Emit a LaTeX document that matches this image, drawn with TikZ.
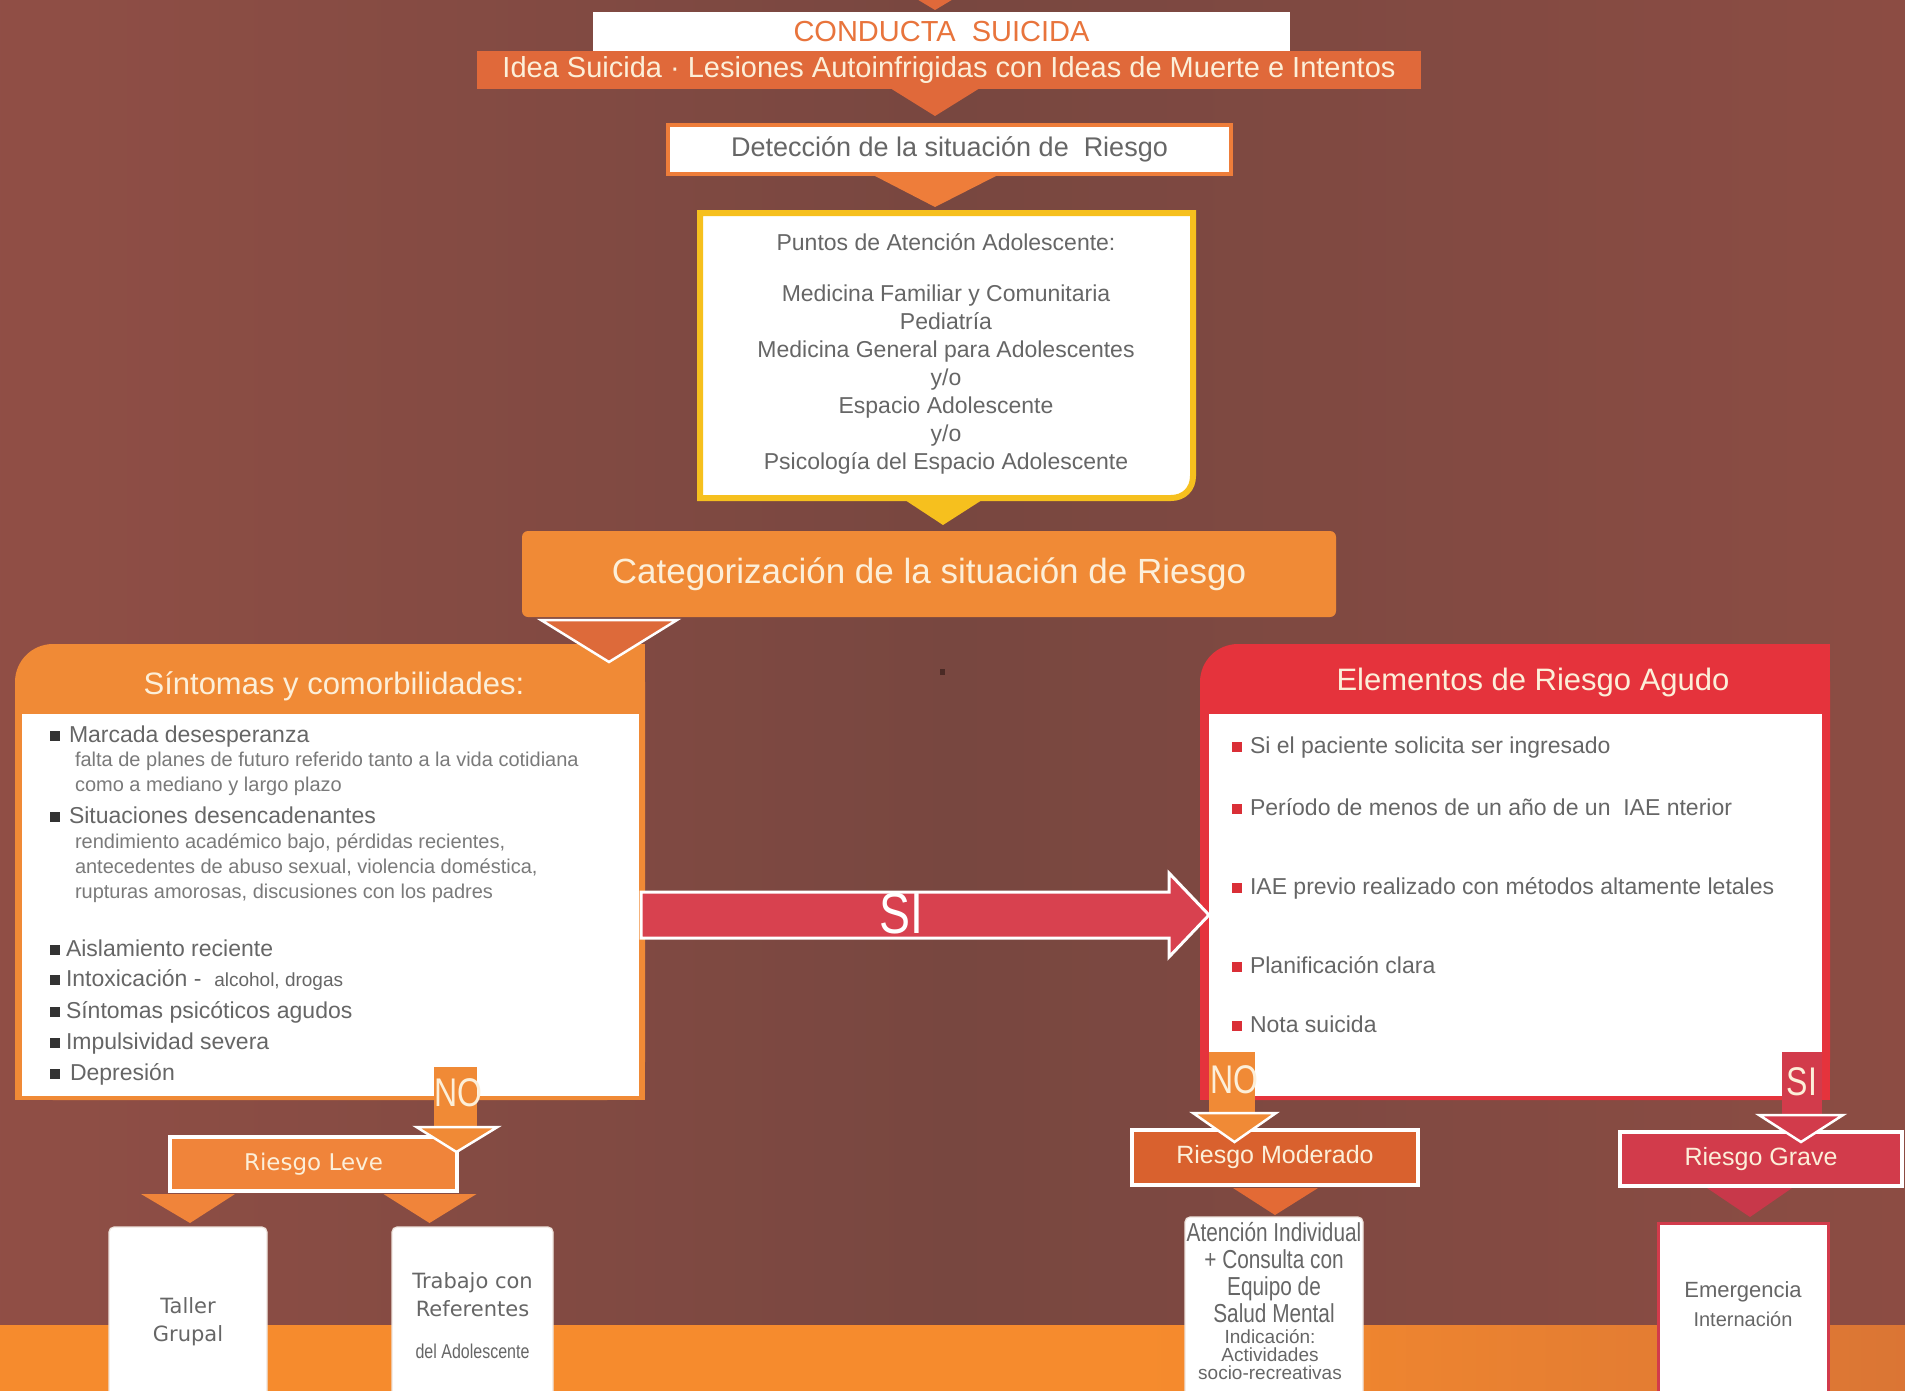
\documentclass[tikz,border=0pt]{standalone}
\usepackage{fontspec}
\setmainfont{Liberation Sans}
\newfontfamily\narrowf[FakeStretch=0.8]{Liberation Sans}
\newfontfamily\dejavuf{DejaVu Sans}
\usetikzlibrary{calc}
\definecolor{bgL}{HTML}{A8564B}
\definecolor{bgM}{HTML}{784740}
\definecolor{bgR}{HTML}{A05247}
\definecolor{bandL}{HTML}{F68B2D}
\definecolor{bandR}{HTML}{B85A3E}
\definecolor{orA}{HTML}{F08A36}
\definecolor{orD}{HTML}{E0693A}
\definecolor{orB}{HTML}{EE7D3A}
\definecolor{orL}{HTML}{F0843A}
\definecolor{orT}{HTML}{DD6A3A}
\definecolor{modF}{HTML}{D9612E}
\definecolor{modT}{HTML}{E36A35}
\definecolor{cream}{HTML}{FCEFD9}
\definecolor{grayT}{HTML}{666666}
\definecolor{graySub}{HTML}{7A7A7A}
\definecolor{yelB}{HTML}{F6C01E}
\definecolor{redH}{HTML}{E5333C}
\definecolor{redA}{HTML}{D8414F}
\definecolor{redB}{HTML}{D23B4B}
\definecolor{redT}{HTML}{C8384A}
\definecolor{condOr}{HTML}{E8743C}
\definecolor{bulG}{HTML}{333333}
\definecolor{bulR}{HTML}{DA2F37}
\definecolor{boxLine}{HTML}{EDE3DC}
\definecolor{dotC}{HTML}{4A2A25}
\pgfdeclarehorizontalshading{bgshade}{100bp}{color(0bp)=(bgL); color(50bp)=(bgM); color(100bp)=(bgR)}
\pgfdeclarehorizontalshading{bandshade}{100bp}{color(0bp)=(bandL); color(55bp)=(bandL); color(100bp)=(bandR)}
\newcommand{\fsz}[2]{\fontsize{#1}{#2}\selectfont}
\newcommand{\sqb}[2]{{\color{#1}\raisebox{1pt}{\rule{10pt}{10pt}}}\hspace{#2}}
\begin{document}
\begin{tikzpicture}[x=1pt,y=-1pt,
  every node/.style={inner sep=0pt, outer sep=0pt},
  headtri/.style={draw=white, line width=2.5, line join=miter},
  whitebox/.style={fill=white, rounded corners=5, draw=boxLine, line width=1.2},
  itemtxt/.style={anchor=base west, text=grayT, font=\fsz{23}{23}},
  subtxt/.style={anchor=base west, text=graySub, font=\fsz{20}{20}},
  elemtxt/.style={anchor=base west, text=grayT, font=\fsz{23}{23}},
  headtxt/.style={text=cream, font=\fsz{31}{31}},
  riskbox/.style={draw=white, line width=3.5, text=cream},
  bartxt/.style={text=cream, font=\narrowf\fsz{40}{40}}
]
\useasboundingbox (0,0) rectangle (1905,1391);
\shade[shading=bgshade] (0,0) rectangle (1905,1391);
\shade[shading=bandshade] (0,1325) rectangle (1905,1391);

% ---------- top part ----------
\node[fill=white, minimum width=697, minimum height=39, text=condOr, font=\fsz{29}{29}] (cond) at (941.5,31.5) {CONDUCTA\ \ SUICIDA};
\fill[orD] ($(cond.north)+(-51.5,-29)$) -- ($(cond.north)+(38.5,-29)$) -- ($(cond.north)+(-6.5,-2)$) -- cycle;
\node[fill=orD, minimum width=944, minimum height=38, text=cream, font=\fsz{29}{29}] (idea) at (949,70) {Idea Suicida · Lesiones Autoinfrigidas con Ideas de Muerte e Intentos};
\fill[orD] ($(idea.south)+(-59,-1)$) -- ($(idea.south)+(31,-1)$) -- ($(idea.south)+(-14,27)$) -- cycle;

\node[fill=white, draw=orB, line width=3.5, minimum width=563, minimum height=49, text=grayT, font=\fsz{27}{27}] (det) at (949.5,149.5) {Detección de la situación de\ \ Riesgo};
\fill[orB] ($(det.south)+(-74.5,2)$) -- ($(det.south)+(46.5,2)$) -- ($(det.south)+(-14.5,33)$) -- cycle;

\node[minimum width=493, minimum height=285] (puntbox) at (946.5,355.5) {};
\draw[yelB, line width=6, fill=white] (puntbox.north west) -- (puntbox.north east) -- ($(puntbox.south east)+(0,-22)$) .. controls ($(puntbox.south east)+(0,-9)$) and ($(puntbox.south east)+(-9,0)$) .. ($(puntbox.south east)+(-22,0)$) -- (puntbox.south west) -- cycle;
\node[anchor=north, align=center, text=grayT, font=\fsz{23}{28}] (punt) at (946,234) {Puntos de Atención Adolescente:\\[23pt]Medicina Familiar y Comunitaria\\Pediatría\\Medicina General para Adolescentes\\y/o\\Espacio Adolescente\\y/o\\Psicología del Espacio Adolescente};
\fill[yelB] ($(puntbox.south)+(-41.5,2)$) -- ($(puntbox.south)+(35.5,2)$) -- ($(puntbox.south)+(-3.5,27)$) -- cycle;

\node[fill=orA, rounded corners=6, minimum width=814, minimum height=86, text=cream, font=\fsz{35}{35}] (categ) at (929,574) {Categorización de la situación de Riesgo};

% ---------- Sintomas box ----------
\node[fill=orA, rounded corners=38, minimum width=630, minimum height=456] (sint) at (330,872) {};
\fill[orA] (sint.north) rectangle (sint.south east);
\fill[orA] (sint.west) rectangle (sint.south);
\node[fill=white, minimum width=617, minimum height=382] (sintbody) at (330.5,905) {};
\node[headtxt] (sintH) at (334,686) {Síntomas y comorbilidades:};
\node[itemtxt] (s1) at (50,742) {\sqb{bulG}{9pt}Marcada desesperanza};
\node[subtxt] (s1a) at (75,766) {falta de planes de futuro referido tanto a la vida cotidiana};
\node[subtxt] (s1b) at (75,791) {como a mediano y largo plazo};
\node[itemtxt] (s2) at (50,823) {\sqb{bulG}{9pt}Situaciones desencadenantes};
\node[subtxt] (s2a) at (75,848) {rendimiento académico bajo, pérdidas recientes,};
\node[subtxt] (s2b) at (75,873) {antecedentes de abuso sexual, violencia doméstica,};
\node[subtxt] (s2c) at (75,898) {rupturas amorosas, discusiones con los padres};
\node[itemtxt] (s3) at (50,956) {\sqb{bulG}{6pt}Aislamiento reciente};
\node[itemtxt] (s4) at (50,986) {\sqb{bulG}{6pt}Intoxicación -\ \ {\fsz{19}{19}alcohol, drogas}};
\node[itemtxt] (s5) at (50,1018) {\sqb{bulG}{6pt}Síntomas psicóticos agudos};
\node[itemtxt] (s6) at (50,1049) {\sqb{bulG}{6pt}Impulsividad severa};
\node[itemtxt] (s7) at (50,1080) {\sqb{bulG}{10pt}Depresión};

\filldraw[fill=orT, headtri] ($(categ.south west)+(19,3)$) -- ($(categ.south west)+(155,3)$) -- ($(categ.south west)+(87,45)$) -- cycle;

% ---------- Elementos box ----------
\node[fill=redH, rounded corners=38, minimum width=630, minimum height=456] (elem) at (1515,872) {};
\fill[redH] (elem.north) rectangle (elem.south east);
\fill[redH] (elem.west) rectangle (elem.south);
\node[fill=white, minimum width=613, minimum height=382] (elembody) at (1515.5,905) {};
\node[headtxt] (elemH) at (1533,682) {Elementos de Riesgo Agudo};
\node[elemtxt] (e1) at (1232,753) {\sqb{bulR}{8pt}Si el paciente solicita ser ingresado};
\node[elemtxt] (e2) at (1232,815) {\sqb{bulR}{8pt}Período de menos de un año de un\ \ IAE nterior};
\node[elemtxt] (e3) at (1232,894) {\sqb{bulR}{8pt}IAE previo realizado con métodos altamente letales};
\node[elemtxt] (e4) at (1232,973) {\sqb{bulR}{8pt}Planificación clara};
\node[elemtxt] (e5) at (1232,1032) {\sqb{bulR}{8pt}Nota suicida};

\fill[dotC] (940,669) rectangle (945,675);

% ---------- SI arrow ----------
\coordinate (aS) at ($(sint.east)+(-4,43)$);
\coordinate (aE) at ($(elem.west)+(9,43)$);
\draw[white, line width=3, line join=miter, fill=redA] ($(aS)+(0,-23)$) -- ($(aE)+(-40,-23)$) -- ($(aE)+(-40,-42)$) -- (aE) -- ($(aE)+(-40,42)$) -- ($(aE)+(-40,23)$) -- ($(aS)+(0,23)$) -- cycle;
\node[text=white, font=\narrowf\fsz{58}{58}] (siBig) at (901,914) {SI};

% ---------- left branch ----------
\node[fill=orL, riskbox, minimum width=287, minimum height=54, font=\dejavuf\fsz{23}{23}] (leve) at (313.5,1164) {Riesgo Leve};
\node[fill=orA, minimum width=43, minimum height=63] (noL) at (455.5,1098.5) {};
\node[bartxt] (noLt) at (458,1093) {NO};
\filldraw[fill=orA, headtri] ($(noL.south)+(-39,-3)$) -- ($(noL.south)+(42,-3)$) -- ($(noL.south)+(1,22)$) -- cycle;

\node[whitebox, anchor=north, minimum width=158, minimum height=190, align=center, text=grayT, font=\dejavuf\fsz{21}{28}] (taller) at (188,1227) {Taller\\Grupal};
\node[whitebox, anchor=north, minimum width=161, minimum height=190] (trab) at (472.5,1227) {};
\node[anchor=north, align=center, text=grayT, font=\dejavuf\fsz{21}{28}] (trabT) at (472.5,1273) {Trabajo con\\Referentes\\[14pt]{\narrowf\fsz{20}{20}del Adolescente}};
\fill[orL] ($(taller.north |- leve.south)+(-47,3)$) -- ($(taller.north |- leve.south)+(47,3)$) -- ($(taller.north)+(2,-4)$) -- cycle;
\fill[orL] ($(trab.north |- leve.south)+(-89,3)$) -- ($(trab.north |- leve.south)+(4,3)$) -- ($(trab.north)+(-43,-4)$) -- cycle;

% ---------- moderate branch ----------
\node[fill=modF, riskbox, minimum width=286, minimum height=55, font=\fsz{25}{25}] (mod) at (1275,1157.5) {Riesgo Moderado};
\node[fill=orA, minimum width=46, minimum height=63] (noR) at (1232,1083.5) {};
\node[bartxt] (noRt) at (1234,1080) {NO};
\filldraw[fill=orA, headtri] ($(noR.south)+(-39,-2)$) -- ($(noR.south)+(44,-2)$) -- ($(noR.south)+(2.5,27)$) -- cycle;
\fill[modT] ($(mod.south)+(-42,3)$) -- ($(mod.south)+(43,3)$) -- ($(mod.south)+(0,30)$) -- cycle;
\node[whitebox, anchor=north, minimum width=178, minimum height=190] (aten) at (1274,1217) {};
\node[anchor=north, align=center, text=grayT, font=\narrowf\fsz{26}{27}] (atenT) at (1274,1222) {Atención Individual\\+ Consulta con\\Equipo de\\Salud Mental};
\node[anchor=north, align=center, text=grayT, font=\fsz{19}{18}] (atenT2) at (1270,1329) {Indicación:\\Actividades\\socio-recreativas};

% ---------- grave branch ----------
\node[fill=redB, riskbox, minimum width=282, minimum height=54, font=\fsz{25}{25}] (grave) at (1761,1159) {Riesgo Grave};
\node[fill=redB, minimum width=40, minimum height=63] (siR) at (1802,1083.5) {};
\node[bartxt] (siRt) at (1802,1082) {SI};
\filldraw[fill=redB, headtri] ($(siR.south)+(-43,0)$) -- ($(siR.south)+(41,0)$) -- ($(siR.south)+(-1,27)$) -- cycle;
\fill[redT] ($(grave.south)+(-54,2)$) -- ($(grave.south)+(31,2)$) -- ($(grave.south)+(-11,31)$) -- cycle;
\node[fill=white, draw=redB, line width=3, anchor=north, minimum width=170, minimum height=190] (emer) at (1743,1223) {};
\node[align=center, text=grayT] (emerT) at (1743,1304) {{\fsz{22}{22}Emergencia}\\[8pt]{\fsz{20}{20}Internación}};
\end{tikzpicture}
\end{document}
